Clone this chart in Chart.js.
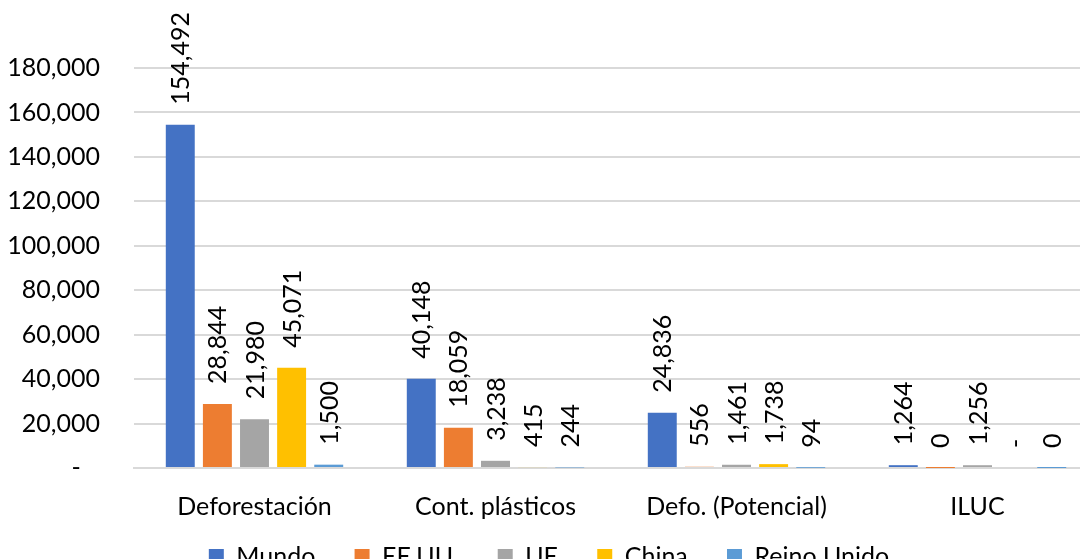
<!DOCTYPE html>
<html>
<head>
<meta charset="utf-8">
<script src="https://cdn.jsdelivr.net/npm/chart.js@4"></script>
<style>
  html, body { margin: 0; padding: 0; background: #fff; overflow: hidden; }
  #wrap { width: 1100px; height: 579px; }
</style>
</head>
<body>
<div id="wrap"><canvas id="impactCanvas"></canvas></div>
<script>
var categories = ["Deforestación", "Cont. plásticos", "Defo. (Potencial)", "ILUC"];
var mundo = [154492, 40148, 24836, 1264];
var eeuu = [28844, 18059, 556, 0.3];
var ue = [21980, 3238, 1461, 1256];
var china = [45071, 415, 1738, 0];
var reinoUnido = [1500, 244, 94, 0.3];
var yTicks = [0, 20000, 40000, 60000, 80000, 100000, 120000, 140000, 160000, 180000];

var font = "Lato, 'Open Sans', sans-serif";

function fmt(v) {
  if (v === 0) return "-";
  return Math.round(v).toLocaleString("en-US");
}

// rotated value labels above each bar
var barLabels = {
  id: "barLabels",
  afterDatasetsDraw: function (chart) {
    var ctx = chart.ctx;
    ctx.save();
    ctx.font = "25px " + font;
    ctx.fillStyle = "#000";
    ctx.textAlign = "left";
    ctx.textBaseline = "middle";
    chart.data.datasets.forEach(function (ds, i) {
      chart.getDatasetMeta(i).data.forEach(function (bar, j) {
        ctx.save();
        ctx.translate(bar.x + 1, bar.y - 20);
        ctx.rotate(-Math.PI / 2);
        ctx.fillText(fmt(ds.data[j]), 0, 0);
        ctx.restore();
      });
    });
    ctx.restore();
  }
};

var context = document.getElementById("impactCanvas");

new Chart(context, {
  type: "bar",
  data: {
    labels: categories,
    datasets: [
      { label: "Mundo", data: mundo, backgroundColor: "#4472C4" },
      { label: "EE.UU.", data: eeuu, backgroundColor: "#ED7D31" },
      { label: "UE", data: ue, backgroundColor: "#A5A5A5" },
      { label: "China", data: china, backgroundColor: "#FFC000" },
      { label: "Reino Unido", data: reinoUnido, backgroundColor: "#5B9BD5" }
    ]
  },
  options: {
    responsive: true,
    maintainAspectRatio: false,
    animation: false,
    layout: { padding: { top: 68, left: 0, right: 2, bottom: 0 } },
    datasets: { bar: { categoryPercentage: 0.77, barPercentage: 0.78 } },
    scales: {
      x: {
        grid: { display: false, drawTicks: false },
        border: { color: "#d9d9d9", width: 2 },
        ticks: { color: "#000", font: { family: font, size: 25 }, padding: 24, maxRotation: 0 },
        afterFit: function (axis) { axis.height = 56; }
      },
      y: {
        min: 0,
        max: 180000,
        afterBuildTicks: function (axis) {
          axis.ticks = yTicks.map(function (v) { return { value: v }; });
        },
        afterFit: function (axis) { axis.width = 134; },
        grid: { color: "#d9d9d9", lineWidth: 2, drawTicks: false },
        border: { display: false },
        ticks: {
          color: "#000",
          font: { family: font, size: 25 },
          padding: 34,
          callback: function (v) { return v === 0 ? "-   " : fmt(v); }
        }
      }
    },
    plugins: {
      legend: {
        position: "bottom",
        labels: {
          color: "#000",
          font: { family: font, size: 25 },
          boxWidth: 15,
          boxHeight: 15,
          padding: 20,
          generateLabels: function (chart) {
            var items = Chart.defaults.plugins.legend.labels.generateLabels(chart);
            items.forEach(function (it, k) {
              if (k < items.length - 1) it.text = it.text + "   ";
              it.lineWidth = 0;
            });
            return items;
          }
        }
      },
      tooltip: { enabled: false }
    }
  },
  plugins: [barLabels]
});
</script>
</body>
</html>
